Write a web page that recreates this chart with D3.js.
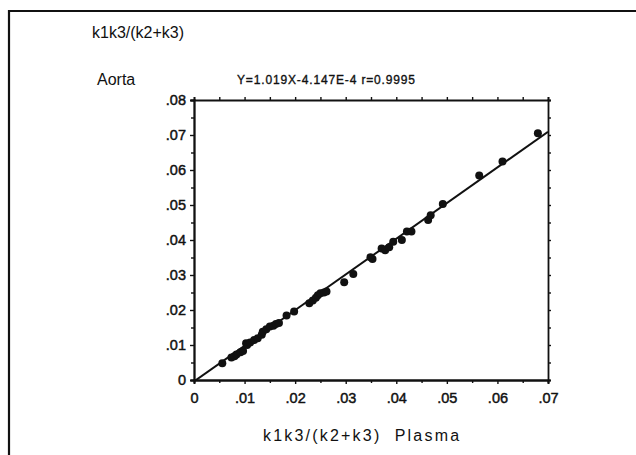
<!DOCTYPE html>
<html>
<head>
<meta charset="utf-8">
<title>k1k3/(k2+k3) Aorta vs Plasma</title>
<script src="https://d3js.org/d3.v7.min.js"></script>
<style>
	body { margin: 0; background: #fff; }
	text { font-family: "Liberation Sans", Arial, sans-serif; fill: #111; }
</style>
</head>
<body>

<script type="text/javascript">
	var screenWidth  = 636;
	var screenHeight = 455;

	// k1k3/(k2+k3) values
	var plasma = [.0056, .0074, .0080, .0084, .0092, .0097, .0103, .0105, .0111, .0119,
	              .0126, .0134, .0136, .0143, .0150, .0157, .0162, .0168, .0183, .0198,
	              .0228, .0235, .0241, .0245, .0250, .0257, .0262, .0297, .0315, .0349,
	              .0353, .0371, .0378, .0386, .0394, .0411, .0421, .0430, .0463, .0468,
	              .0492, .0564, .0610, .0680];
	var aorta  = [.0048, .0064, .0068, .0073, .0079, .0083, .0105, .0100, .0107, .0114,
	              .0119, .0129, .0138, .0145, .0153, .0155, .0160, .0163, .0184, .0196,
	              .0219, .0227, .0235, .0242, .0248, .0250, .0253, .0279, .0303, .0351,
	              .0346, .0376, .0371, .0379, .0395, .0400, .0424, .0424, .0457, .0471,
	              .0503, .0584, .0624, .0705];

	var xTicks      = [0, .01, .02, .03, .04, .05, .06, .07];
	var yTicks      = [0, .01, .02, .03, .04, .05, .06, .07, .08];
	var xMinorTicks = [.005, .015, .025, .035, .045, .055, .065];
	var yMinorTicks = [.005, .015, .025, .035, .045, .055, .065, .075];

	var slope     = 1.019;
	var intercept = -4.147E-4;
	var equation  = "Y=1.019X-4.147E-4  r=0.9995";

	var plot = {left: 194, right: 548, top: 100, bottom: 380};

	var xScale = d3.scaleLinear().domain([0, .07]).range([plot.left, plot.right]);
	var yScale = d3.scaleLinear().domain([0, .08]).range([plot.bottom, plot.top]);

	function fmt(d){
		// 0 stays "0", others lose the leading zero: ".01"
		return d === 0 ? "0" : d3.format(".2f")(d).replace(/^0/, "");
	}

	var svg = d3.select("body").append("svg")
		.attr("width", screenWidth)
		.attr("height", screenHeight);

	// page frame (top and left edges are all that show)
	svg.append("path")
		.attr("d", "M9,455 V11 H636")
		.attr("fill", "none").attr("stroke", "#111").attr("stroke-width", 2.2);

	// axes: bottom/left labelled, top/right only ticked
	var bottomAxis = d3.axisBottom(xScale).tickValues(xTicks).tickFormat(fmt).tickSize(4).tickPadding(9);
	var leftAxis   = d3.axisLeft(yScale).tickValues(yTicks).tickFormat(fmt).tickSize(4).tickPadding(4);
	var topAxis    = d3.axisTop(xScale).tickValues(xTicks.concat(xMinorTicks)).tickFormat("").tickSize(3);
	var rightAxis  = d3.axisRight(yScale).tickValues(yTicks.concat(yMinorTicks)).tickFormat("").tickSize(3);

	svg.append("g").attr("transform", "translate(0," + plot.bottom + ")").call(bottomAxis);
	svg.append("g").attr("transform", "translate(" + plot.left + ",0)").call(leftAxis);
	svg.append("g").attr("transform", "translate(0," + plot.top + ")").call(topAxis);
	svg.append("g").attr("transform", "translate(" + plot.right + ",0)").call(rightAxis);

	// minor ticks on the labelled axes
	svg.append("g").attr("transform", "translate(0," + plot.bottom + ")")
		.call(d3.axisBottom(xScale).tickValues(xMinorTicks).tickFormat("").tickSize(3));
	svg.append("g").attr("transform", "translate(" + plot.left + ",0)")
		.call(d3.axisLeft(yScale).tickValues(yMinorTicks).tickFormat("").tickSize(3));

	svg.selectAll(".domain").attr("stroke", "#111").attr("stroke-width", 1.8);
	svg.selectAll(".tick line").attr("stroke", "#111").attr("stroke-width", 1.4);
	svg.selectAll(".tick text")
		.style("font-family", "'Liberation Sans', Arial, sans-serif")
		.style("font-size", "14.5px").style("fill", "#111")
		.attr("stroke", "#111").attr("stroke-width", 0.45);

	// regression line clipped to plot area
	svg.append("clipPath").attr("id", "plotClip").append("rect")
		.attr("x", plot.left).attr("y", plot.top)
		.attr("width", plot.right - plot.left).attr("height", plot.bottom - plot.top);

	svg.append("line")
		.attr("clip-path", "url(#plotClip)")
		.attr("x1", xScale(0)).attr("y1", yScale(intercept))
		.attr("x2", xScale(.07)).attr("y2", yScale(slope * .07 + intercept))
		.attr("stroke", "#111").attr("stroke-width", 2);

	// data points
	svg.selectAll("circle.pt").data(plasma).enter().append("circle")
		.attr("class", "pt")
		.attr("cx", d => xScale(d))
		.attr("cy", (d, i) => yScale(aorta[i]))
		.attr("r", 4)
		.attr("fill", "#111");

	// labels
	svg.append("text").attr("x", 92).attr("y", 38)
		.style("font-size", "16px").text("k1k3/(k2+k3)");
	svg.append("text").attr("x", 97).attr("y", 85)
		.style("font-size", "16px").text("Aorta");
	svg.append("text").attr("x", 237).attr("y", 84)
		.style("font-size", "12px").style("letter-spacing", "0.85px")
		.attr("stroke", "#111").attr("stroke-width", 0.35)
		.text(equation);
	svg.append("text").attr("x", 263).attr("y", 441)
		.style("font-size", "16px").style("letter-spacing", "2.2px")
		.attr("xml:space", "preserve")
		.text("k1k3/(k2+k3)  Plasma");
</script>
</body>
</html>
